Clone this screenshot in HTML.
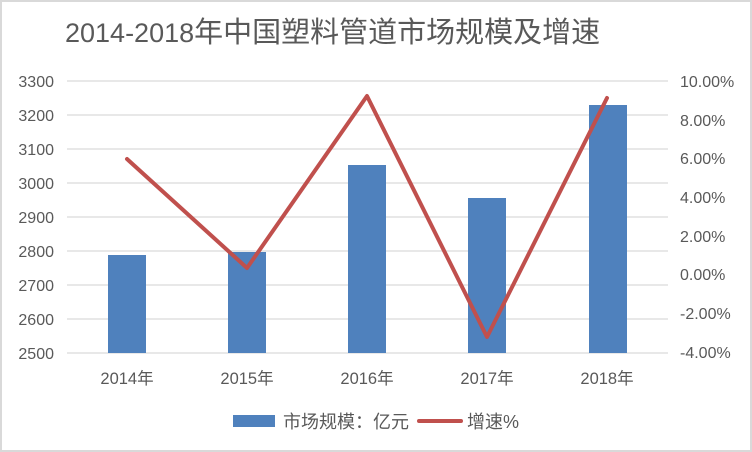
<!DOCTYPE html>
<html><head><meta charset="utf-8"><style>
body{margin:0;background:#fff;}
</style></head><body>
<svg width="752" height="452" xmlns="http://www.w3.org/2000/svg" style="display:block;font-family:'Liberation Sans','Noto Sans CJK SC',sans-serif">
<rect x="1" y="1" width="750" height="450" fill="#fff" stroke="#d9d9d9" stroke-width="2"/>
<text x="65" y="42" fill="#595959" font-size="29"><tspan font-size="27">2014-2018</tspan>年中国塑料管道市场规模及增速</text>
<g stroke="#d9d9d9" stroke-width="1.3">
<line x1="67" x2="668" y1="81" y2="81"/><line x1="67" x2="668" y1="115" y2="115"/>
<line x1="67" x2="668" y1="149" y2="149"/><line x1="67" x2="668" y1="183" y2="183"/>
<line x1="67" x2="668" y1="217" y2="217"/><line x1="67" x2="668" y1="251" y2="251"/>
<line x1="67" x2="668" y1="285" y2="285"/><line x1="67" x2="668" y1="319" y2="319"/>
<line x1="67" x2="668" y1="353" y2="353"/>
</g>
<g fill="#595959" font-size="16" text-anchor="end">
<text x="54" y="87">3300</text><text x="54" y="121">3200</text><text x="54" y="155">3100</text>
<text x="54" y="189">3000</text><text x="54" y="223">2900</text><text x="54" y="257">2800</text>
<text x="54" y="291">2700</text><text x="54" y="325">2600</text><text x="54" y="359">2500</text>
</g>
<g fill="#595959" font-size="16">
<text x="680" y="87">10.00%</text><text x="680" y="126">8.00%</text><text x="680" y="164">6.00%</text>
<text x="680" y="203">4.00%</text><text x="680" y="242">2.00%</text><text x="680" y="280">0.00%</text>
<text x="680" y="319">-2.00%</text><text x="680" y="358">-4.00%</text>
</g>
<g fill="#4f81bd">
<rect x="108" y="255" width="38" height="98"/>
<rect x="228" y="252" width="38" height="101"/>
<rect x="348" y="165" width="38" height="188"/>
<rect x="468" y="198" width="38" height="155"/>
<rect x="589" y="105" width="38" height="248"/>
</g>
<polyline points="127,159 247,268 367,96 487,337 607,98" fill="none" stroke="#c0504d" stroke-width="4" stroke-linejoin="round" stroke-linecap="round"/>
<g fill="#595959" font-size="16.5" text-anchor="middle">
<text x="127" y="384">2014年</text><text x="247" y="384">2015年</text><text x="367" y="384">2016年</text>
<text x="487" y="384">2017年</text><text x="607" y="384">2018年</text>
</g>
<rect x="233" y="415" width="42" height="12" fill="#4f81bd"/>
<text x="283" y="428" fill="#595959" font-size="18">市场规模：亿元</text>
<line x1="419" x2="461" y1="421" y2="421" stroke="#c0504d" stroke-width="4" stroke-linecap="round"/>
<text x="467" y="428" fill="#595959" font-size="18">增速%</text>
</svg>
</body></html>
